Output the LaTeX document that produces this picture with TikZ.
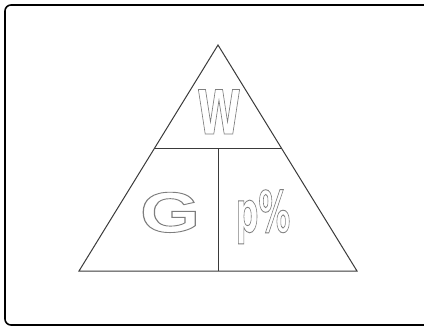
\documentclass[tikz,border=0pt]{standalone}
\usepackage{fontspec}
\setmainfont{Liberation Sans}
\newfontfamily\narrowfont{DejaVu Sans Condensed}
\usetikzlibrary{calc}
\definecolor{edge}{HTML}{3A3A3A}
\definecolor{glyph}{HTML}{7E7E7E}
% outlined (hollow) glyphs through the pdf text render mode
\newcommand\hollow[1]{\special{pdf:literal direct 1 Tr 0.9 w}#1\special{pdf:literal direct 0 Tr}}
\tikzset{
  frame/.style={draw=black,line width=1.6pt,rounded corners=6pt},
  side/.style={draw=edge,line width=1pt},
  letter/.style={text=glyph,inner sep=0pt,anchor=base,font=\bfseries}
}

\begin{document}
\begin{tikzpicture}[x=1pt,y=-1pt]
\useasboundingbox (0,0) rectangle (424,327);
\clip (0,0) rectangle (424,327);
\draw[frame] (5,5) rectangle (440,325);

\coordinate (apex) at (218,45);
\coordinate (bl) at (79,271);
\coordinate (br) at (357,271);
\coordinate (ml) at ($(apex)!0.456!(bl)$);
\coordinate (mr) at ($(apex)!0.456!(br)$);
\coordinate (mid) at ($(ml)!0.5!(mr)$);
\coordinate (foot) at (mid |- bl);

\draw[side] (apex) -- (bl) -- (br) -- cycle;
\draw[side] (ml) -- (mr);
\draw[side] (mid) -- (foot);

\node[letter,xscale=0.72] (work) at (219,134) {\narrowfont\bfseries\fontsize{61}{61}\selectfont\hollow{W}};
\node[letter,xscale=1.35] (grav) at (170,232) {\fontsize{57}{57}\selectfont\hollow{G}};
\node[letter,xscale=0.62] (pct) at (263,232) {\narrowfont\bfseries\fontsize{57}{57}\selectfont\hollow{p\%}};
\end{tikzpicture}
\end{document}
